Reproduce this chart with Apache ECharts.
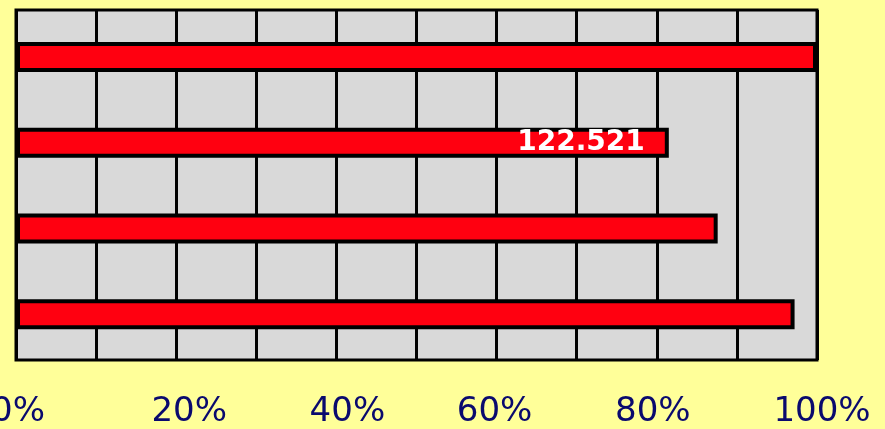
<!DOCTYPE html>
<html>
<head>
<meta charset="utf-8">
<script src="https://cdn.jsdelivr.net/npm/echarts@6/dist/echarts.min.js"></script>
<style>
html,body{margin:0;padding:0;background:#FFFF99;}
#c{width:885px;height:429px;}
</style>
</head>
<body>
<div id="c"></div>
<script>
const categories = ['A', 'B', 'C', 'D'];
const values = [100, 81.5, 87.6, 97.2];
const barLabels = ['', '122.521', '', ''];
const tickValues = [0, 20, 40, 60, 80, 100];
// small horizontal nudges (px) of the tick labels, as in the reference
const tickShift = {0: 2, 20: 13, 40: 11, 60: -2, 80: -4, 100: 5};

const chart = echarts.init(document.getElementById('c'));
const rich = {};
tickValues.forEach(function (t) {
  const s = tickShift[t] || 0;
  rich['t' + t] = {
    color: '#0A0A6E', fontFamily: 'DejaVu Sans', fontSize: 34,
    padding: s >= 0 ? [0, 0, 0, 2 * s] : [0, -2 * s, 0, 0]
  };
});

chart.setOption({
  backgroundColor: '#FFFF99',
  animation: false,
  grid: [{
    left: 16, right: 68, top: 10, bottom: 69,
    containLabel: false, outerBoundsMode: 'none',
    show: true, backgroundColor: '#D9D9D9', borderColor: '#000', borderWidth: 3
  }, {
    left: 16, right: 68, top: 14, bottom: 72,
    containLabel: false, outerBoundsMode: 'none', show: false
  }],
  xAxis: [{
    gridIndex: 0, type: 'value', min: 0, max: 100, interval: 10,
    axisLine: {show: false},
    axisTick: {show: false},
    splitLine: {show: true, lineStyle: {color: '#000', width: 3}},
    axisLabel: {
      margin: 35,
      rich: rich,
      formatter: function (v) { return tickValues.indexOf(v) >= 0 ? '{t' + v + '|' + v + '%}' : ''; }
    }
  }, {
    gridIndex: 1, type: 'value', min: 0, max: 100, show: false,
    splitLine: {show: false}
  }],
  yAxis: [{
    gridIndex: 0, type: 'category', data: categories, inverse: true, show: false
  }, {
    gridIndex: 1, type: 'category', data: categories, inverse: true,
    axisLine: {show: false}, axisTick: {show: false}, axisLabel: {show: false},
    splitLine: {show: false}
  }],
  series: [{
    type: 'bar',
    xAxisIndex: 1, yAxisIndex: 1,
    data: values.map((v, i) => ({value: v, label: {show: barLabels[i] !== ''}})),
    barWidth: 30,
    itemStyle: {color: '#FF0010', borderColor: '#000', borderWidth: 4},
    label: {
      position: 'insideRight',
      distance: 24,
      color: '#fff',
      fontFamily: 'DejaVu Sans',
      fontWeight: 'bold',
      fontSize: 28,
      formatter: function (p) { return barLabels[p.dataIndex]; }
    }
  }]
});
</script>
</body>
</html>
